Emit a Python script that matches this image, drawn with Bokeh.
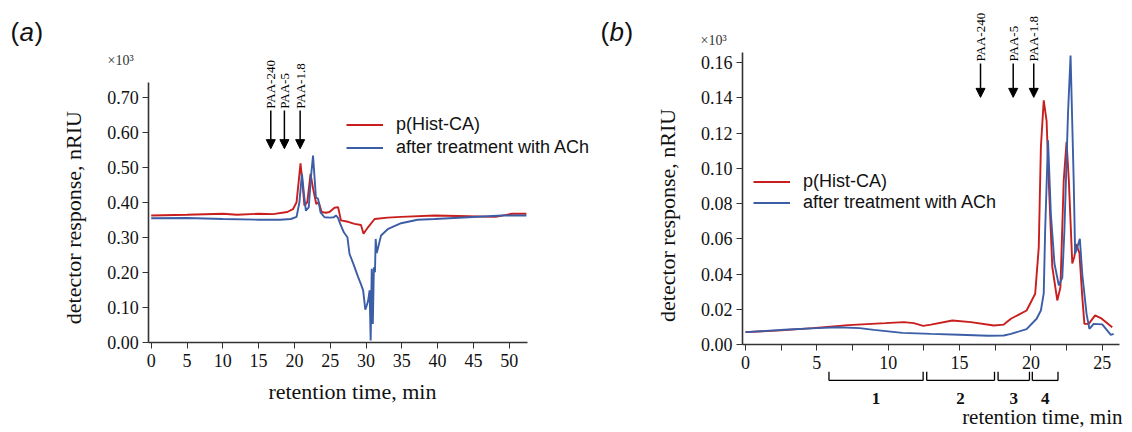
import numpy as np
from bokeh.plotting import figure
from bokeh.layouts import row
from bokeh.models import (FixedTicker, NumeralTickFormatter, Legend,
                          LegendItem, Arrow, NormalHead, Range1d)
from bokeh.core.properties import value
from bokeh.embed import file_html
from bokeh.resources import INLINE

# ---------------- data: panel (a) ----------------
a_red_t = [0, 5, 10, 12, 15, 17, 19, 19.8, 20.3, 20.6, 20.85, 21.1, 21.4, 21.8, 22.25, 22.6,
           23.05, 23.4, 23.8, 24.4, 24.9, 25.6, 26.1, 26.5, 27.5, 28.4, 29.3, 29.65, 30.3,
           31.2, 33.0, 34.9, 39.6, 44.3, 48.1, 50.4, 52.4]
a_red_v = [0.362, 0.364, 0.367, 0.364, 0.367, 0.366, 0.372, 0.380, 0.400, 0.460, 0.511, 0.460,
           0.390, 0.400, 0.481, 0.440, 0.395, 0.400, 0.372, 0.370, 0.372, 0.384, 0.386, 0.348,
           0.344, 0.338, 0.335, 0.310, 0.329, 0.352, 0.356, 0.358, 0.362, 0.360, 0.358, 0.367, 0.367]

a_blue_t = [0, 5, 10, 15, 18, 19.5, 20.3, 20.7, 21.05, 21.35, 21.6, 22.0, 22.35, 22.6, 22.85,
            23.0, 23.3, 23.65, 24.2, 25.0, 25.5, 25.8, 26.1, 26.4, 26.9, 27.4, 27.7, 28.3, 28.9,
            29.3, 29.6, 29.9, 30.1, 30.3, 30.5, 30.65, 30.8, 30.95, 31.1, 31.25, 31.35, 31.5,
            31.65, 32.1, 33.1, 34.9, 37.2, 39.6, 44.3, 49.0, 52.4]
a_blue_v = [0.354, 0.355, 0.352, 0.350, 0.350, 0.352, 0.358, 0.400, 0.481, 0.420, 0.376, 0.385,
            0.480, 0.533, 0.460, 0.414, 0.410, 0.371, 0.357, 0.356, 0.357, 0.362, 0.355, 0.338,
            0.314, 0.300, 0.252, 0.220, 0.186, 0.165, 0.148, 0.093, 0.105, 0.119, 0.148, 0.005,
            0.210, 0.052, 0.214, 0.200, 0.295, 0.255, 0.267, 0.305, 0.324, 0.340, 0.350, 0.352,
            0.357, 0.362, 0.362]

# ---------------- data: panel (b) ----------------
b_red_t = [0, 2.5, 4.7, 7.2, 9.8, 11.1, 11.8, 12.45, 13.0, 14.5, 15.8, 17.4, 18.1, 18.6, 19.7,
           20.3, 20.55, 20.7, 20.9, 21.1, 21.25, 21.5, 21.85, 22.07, 22.3, 22.5, 22.66, 22.9,
           23.05, 23.17, 23.4, 23.6, 23.75, 24.05, 24.5, 24.9, 25.7]
b_red_v = [0.0070, 0.0080, 0.0093, 0.0110, 0.0121, 0.0127, 0.0121, 0.0106, 0.0113, 0.0136,
           0.0127, 0.0108, 0.0113, 0.0146, 0.0193, 0.0288, 0.0550, 0.1120, 0.1386, 0.1270,
           0.0930, 0.0440, 0.0250, 0.0325, 0.0930, 0.1150, 0.0930, 0.0460, 0.0500, 0.0570,
           0.0520, 0.0270, 0.0117, 0.0117, 0.0165, 0.0150, 0.0098]

b_blue_t = [0, 3, 5, 6.5, 8, 9, 11, 13, 15, 17, 18.1, 18.6, 19.7, 20.4, 20.7, 20.9, 21.0, 21.2,
            21.4, 21.65, 21.96, 22.2, 22.35, 22.6, 22.78, 23.0, 23.1, 23.25, 23.43, 23.6, 23.9,
            24.1, 24.4, 25.0, 25.6, 25.8]
b_blue_v = [0.0070, 0.0085, 0.0093, 0.0098, 0.0093, 0.0083, 0.0066, 0.0060, 0.0055, 0.0050,
            0.0051, 0.0060, 0.0087, 0.0146, 0.0193, 0.0290, 0.0650, 0.1160, 0.0740, 0.0460,
            0.0335, 0.0380, 0.0650, 0.1310, 0.1640, 0.0930, 0.0515, 0.0550, 0.0600, 0.0400,
            0.0174, 0.0089, 0.0117, 0.0114, 0.0055, 0.0060]

series_labels = ["p(Hist-CA)", "after treatment with ACh"]

a_xticks = [0, 5, 10, 15, 20, 25, 30, 35, 40, 45, 50]
a_yticks = [0.0, 0.1, 0.2, 0.3, 0.4, 0.5, 0.6, 0.7]
b_xticks = [0, 5, 10, 15, 20, 25]
b_xminor = [2.5, 7.5, 12.5, 17.5, 22.5]
b_yticks = [0.0, 0.02, 0.04, 0.06, 0.08, 0.10, 0.12, 0.14, 0.16]

paa_labels = ["PAA-240", "PAA-5", "PAA-1.8"]
paa_a_pos = [16.7, 18.6, 20.8]
paa_b_pos = [16.47, 18.76, 20.2]

frac_labels = ["1", "2", "3", "4"]
frac_start = [5.85, 12.7, 17.7, 20.1]
frac_end = [12.45, 17.45, 19.9, 21.9]

RED = "#C81E1E"
BLUE = "#3B5EA6"
SERIF = "Liberation Serif"
SANS = "Liberation Sans"
AX = "#333333"
H = 428


def make_fig(width, xr, yr):
    p = figure(width=width, height=H, x_range=Range1d(*xr), y_range=Range1d(*yr),
               output_backend="svg", toolbar_location=None, min_border=0)
    p.outline_line_color = None
    p.grid.visible = False
    p.background_fill_color = "white"
    p.border_fill_color = "white"
    return p


def style_axis(ax):
    ax.axis_line_color = AX
    ax.axis_line_width = 1.6
    ax.major_tick_line_color = AX
    ax.major_tick_out = 6
    ax.major_tick_in = 0
    ax.minor_tick_line_color = None
    ax.major_label_text_font = SERIF
    ax.major_label_text_font_size = "18px"
    ax.major_label_text_color = "#111111"


def add_legend(p, renderers, loc, row_h):
    leg = Legend(items=[LegendItem(label=series_labels[0], renderers=[renderers[0]]),
                        LegendItem(label=series_labels[1], renderers=[renderers[1]])],
                 location=loc)
    leg.border_line_color = None
    leg.background_fill_alpha = 0
    leg.padding = 0
    leg.margin = 0
    leg.spacing = 0
    leg.label_text_font = SANS
    leg.label_text_font_size = "18px"
    leg.label_text_color = "#111111"
    leg.glyph_width = 37
    leg.glyph_height = row_h
    leg.label_height = row_h
    leg.label_standoff = 13
    p.add_layout(leg)


def add_arrows(p, xs, y0, y1, ytxt):
    for x in xs:
        p.add_layout(Arrow(end=NormalHead(size=9, fill_color="black", line_color="black"),
                           x_start=x, y_start=y0, x_end=x, y_end=y1,
                           line_color="black", line_width=1.5))
    p.text(x=xs, y=[ytxt] * len(xs), text=paa_labels, angle=np.pi / 2,
           text_align="left", text_baseline="middle",
           text_font=value(SERIF), text_font_size="13px", text_color="black")


def panel_tag(p, x, y, letter):
    p.text(x=[x, x], y=[y, y], text=["(", ")"], x_offset=[0, 24],
           text_font=value(SANS), text_font_size="26px", text_align="left",
           text_baseline="middle", text_color="#111111")
    p.text(x=[x], y=[y], text=[letter], x_offset=[9], text_font=value(SANS),
           text_font_size="26px", text_font_style="italic", text_align="left",
           text_baseline="middle", text_color="#111111")


# ---------------- panel (a) ----------------
pa = make_fig(598, (-21.05, 62.47), (-0.2466, 0.9763))
ra = pa.line(a_red_t, a_red_v, line_color=RED, line_width=1.9)
ba = pa.line(a_blue_t, a_blue_v, line_color=BLUE, line_width=1.9)
pa.xaxis.fixed_location = 0
pa.xaxis.bounds = (-0.35, 52.5)
pa.xaxis.ticker = FixedTicker(ticks=a_xticks)
pa.yaxis.fixed_location = -0.35
pa.yaxis.bounds = (0, 0.742)
pa.yaxis.ticker = FixedTicker(ticks=a_yticks)
pa.yaxis.formatter = NumeralTickFormatter(format="0.00")
style_axis(pa.xaxis[0])
style_axis(pa.yaxis[0])
pa.xaxis.major_label_standoff = 6
pa.yaxis.major_label_standoff = 4
add_legend(pa, [ra, ba], (346, 269), 23)
add_arrows(pa, paa_a_pos, 0.662, 0.553, 0.667)
pa.text(x=[-10.85], y=[0.356], text=["detector response, nRIU"], angle=np.pi / 2,
        text_align="center", text_baseline="middle", text_font=value(SERIF),
        text_font_size="22px", text_color="#111111")
pa.text(x=[28.1], y=[-0.140], text=["retention time, min"], text_align="center",
        text_baseline="alphabetic", text_font=value(SERIF), text_font_size="22px",
        text_color="#111111")
pa.text(x=[-6.1], y=[0.805], text=["\u00d710\u00b3"], text_align="left",
        text_baseline="middle", text_font=value(SERIF), text_font_size="14px",
        text_color="#333333")
panel_tag(pa, -19.65, 0.885, "a")

# ---------------- panel (b) ----------------
pb = make_fig(530, (-10.30, 26.84), (-0.0477, 0.1953))
rb = pb.line(b_red_t, b_red_v, line_color=RED, line_width=1.9)
bb = pb.line(b_blue_t, b_blue_v, line_color=BLUE, line_width=1.9)
pb.xaxis.fixed_location = 0
pb.xaxis.bounds = (-0.21, 26.2)
pb.xaxis.ticker = FixedTicker(ticks=b_xticks, minor_ticks=b_xminor)
pb.yaxis.fixed_location = -0.21
pb.yaxis.bounds = (0, 0.166)
pb.yaxis.ticker = FixedTicker(ticks=b_yticks)
pb.yaxis.formatter = NumeralTickFormatter(format="0.00")
style_axis(pb.xaxis[0])
style_axis(pb.yaxis[0])
pb.xaxis.minor_tick_line_color = AX
pb.xaxis.minor_tick_out = 6
pb.xaxis.minor_tick_in = 0
pb.xaxis.major_label_standoff = 6
pb.yaxis.major_label_standoff = 4
add_legend(pb, [rb, bb], (155, 215), 21)
add_arrows(pb, paa_b_pos, 0.1596, 0.1403, 0.1607)

# fraction brackets
yb, yt = -0.0204, -0.0155
n = len(frac_start)
pb.segment(x0=frac_start, y0=[yb] * n, x1=frac_end, y1=[yb] * n, line_color="black", line_width=1.3)
pb.segment(x0=frac_start, y0=[yb] * n, x1=frac_start, y1=[yt] * n, line_color="black", line_width=1.3)
pb.segment(x0=frac_end, y0=[yb] * n, x1=frac_end, y1=[yt] * n, line_color="black", line_width=1.3)
frac_mid = [(s + e) / 2 for s, e in zip(frac_start, frac_end)]
pb.text(x=frac_mid, y=[-0.0307] * n, text=frac_labels, text_align="center",
        text_baseline="middle", text_font=value(SERIF), text_font_size="17px",
        text_font_style="bold", text_color="#111111")

pb.text(x=[-5.47], y=[0.0733], text=["detector response, nRIU"], angle=np.pi / 2,
        text_align="center", text_baseline="middle", text_font=value(SERIF),
        text_font_size="22px", text_color="#111111")
pb.text(x=[26.42], y=[-0.0409], text=["retention time, min"], text_align="right",
        text_baseline="alphabetic", text_font=value(SERIF), text_font_size="21px",
        text_color="#111111")
pb.text(x=[-3.15], y=[0.1726], text=["\u00d710\u00b3"], text_align="left",
        text_baseline="middle", text_font=value(SERIF), text_font_size="14px",
        text_color="#333333")
panel_tag(pb, -10.16, 0.1772, "b")

layout = row(pa, pb)
open("out.html", "w").write(file_html(layout, INLINE))
